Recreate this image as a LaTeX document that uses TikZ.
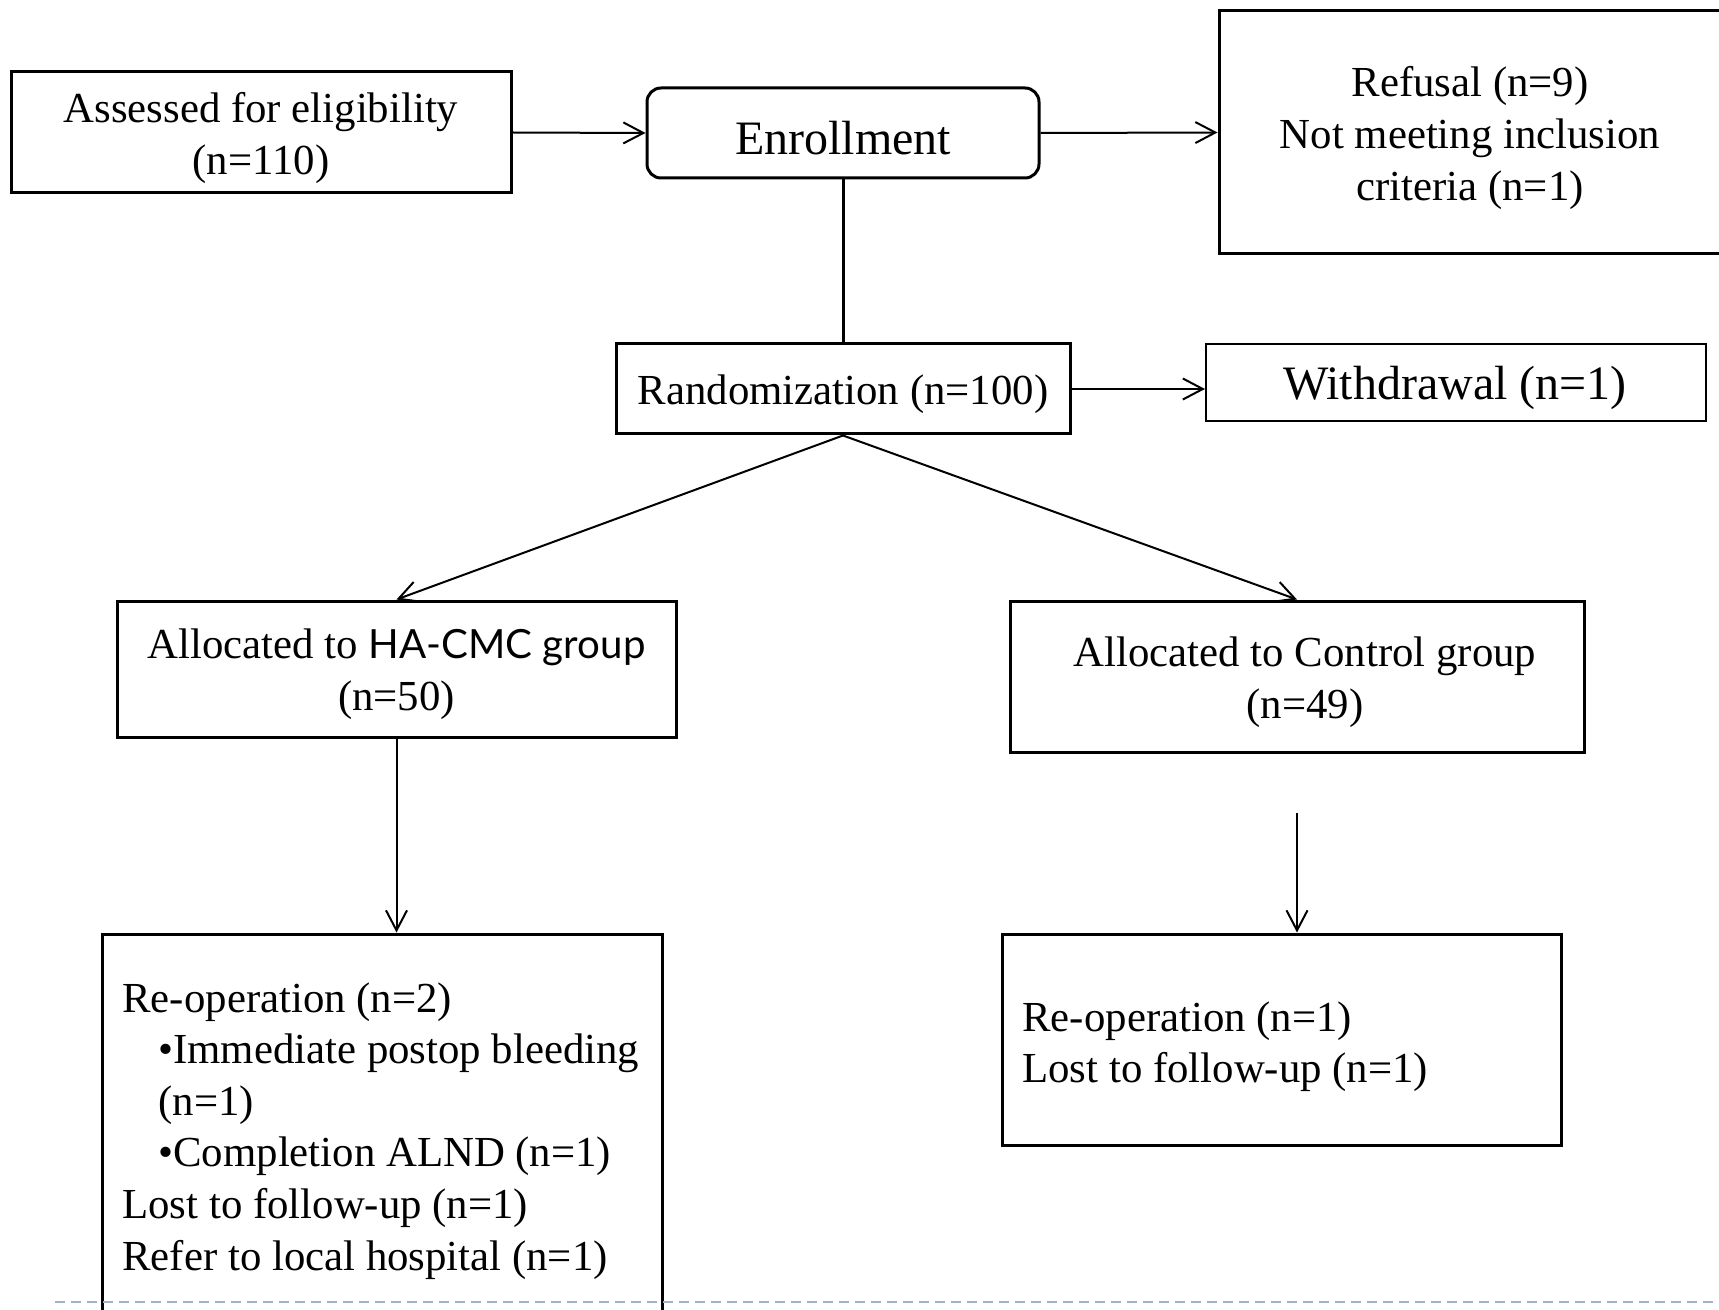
\documentclass[tikz,border=0pt]{standalone}
\usepackage{fontspec}
\setmainfont{Liberation Serif}
\newfontfamily\gillish[Scale=0.94]{Lato}
\usetikzlibrary{arrows.meta}
\definecolor{dashcol}{HTML}{9DB3C9}
\begin{document}
\begin{tikzpicture}[x=0.5pt,y=-0.5pt,
  box/.style={draw, line width=1.5pt, inner sep=0pt},
  lbl/.style={inner sep=0pt, align=center, yshift=-2.7pt, font=\fontsize{21.4}{26}\selectfont},
  biglbl/.style={inner sep=0pt, align=center, yshift=-2.5pt, font=\fontsize{24}{28}\selectfont},
  txt/.style={inner sep=0pt, align=left, anchor=north west, font=\fontsize{21.4}{25.8}\selectfont},
  arr/.style={-{Straight Barb[length=10pt,width=10.5pt,line width=1pt]}, line width=1pt}]
\clip (0,0) rectangle (1719,1310);
\fill[white] (0,0) rectangle (1719,1310);

\node[box, minimum width=250pt, minimum height=60.5pt] (assess) at (261,132.5) {};
\node[box, rounded corners=7pt, minimum width=196pt, minimum height=45pt] (enroll) at (843,133) {};
\node[box, minimum width=253pt, minimum height=121.5pt] (refusal) at (1472,132.5) {};
\node[box, minimum width=227pt, minimum height=45pt] (rand) at (843,389) {};
\node[box, line width=1pt, minimum width=250pt, minimum height=38.5pt] (withd) at (1456,382.5) {};
\node[box, minimum width=279.5pt, minimum height=68pt] (ha) at (396.5,669) {};
\node[box, minimum width=287pt, minimum height=75.5pt] (ctrl) at (1297,676.5) {};
\node[box, minimum width=280pt, minimum height=203pt] (resL) at (382,1137) {};
\node[box, minimum width=279.5pt, minimum height=105.5pt] (resR) at (1281.5,1039.5) {};

\node[lbl] (assessT) at (assess.center) {Assessed for eligibility\\(n=110)};
\node[biglbl] (enrollT) at (enroll.center) {Enrollment};
\node[lbl] (refusalT) at (1470,132.5) {Refusal (n=9)\\Not meeting inclusion\\criteria (n=1)};
\node[lbl] (randT) at (rand.center) {Randomization (n=100)};
\node[biglbl] (withdT) at (1455,382.5) {Withdrawal (n=1)};
\node[lbl] (haT) at (ha.center) {Allocated to {\gillish HA-CMC group}\\(n=50)};
\node[lbl] (ctrlT) at (1305,676.5) {Allocated to Control group\\(n=49)};

\node[txt] (resLtext) at (122,982) {Re-operation (n=2)\\
\hspace*{18pt}•Immediate postop bleeding\\
\hspace*{18pt}(n=1)\\
\hspace*{18pt}•Completion ALND (n=1)\\
Lost to follow-up (n=1)\\
Refer to local hospital (n=1)};
\node[txt] (resRtext) at (1022,1001) {Re-operation (n=1)\\Lost to follow-up (n=1)};

\draw[arr] (assess.east) -- (enroll.west);
\draw[arr] (enroll.east) -- (refusal.west);
\draw[line width=1.5pt] (enroll.south) -- (rand.north);
\draw[arr] (rand.east) -- (rand.east -| withd.west);
\draw[arr] (rand.south) -- (ha.north);
\draw[arr] (rand.south) -- (ctrl.north);
\draw[arr] (ha.south) -- (ha.south |- resL.north);
\coordinate (cstart) at (1297,813);
\draw[arr] (cstart) -- (cstart |- resR.north);

\coordinate (dashL) at (55,1302);
\coordinate (dashR) at (1719,1302);
\draw[dashcol, line width=1pt, dash pattern=on 5pt off 3pt] (dashL) -- (dashR);
\end{tikzpicture}
\end{document}
